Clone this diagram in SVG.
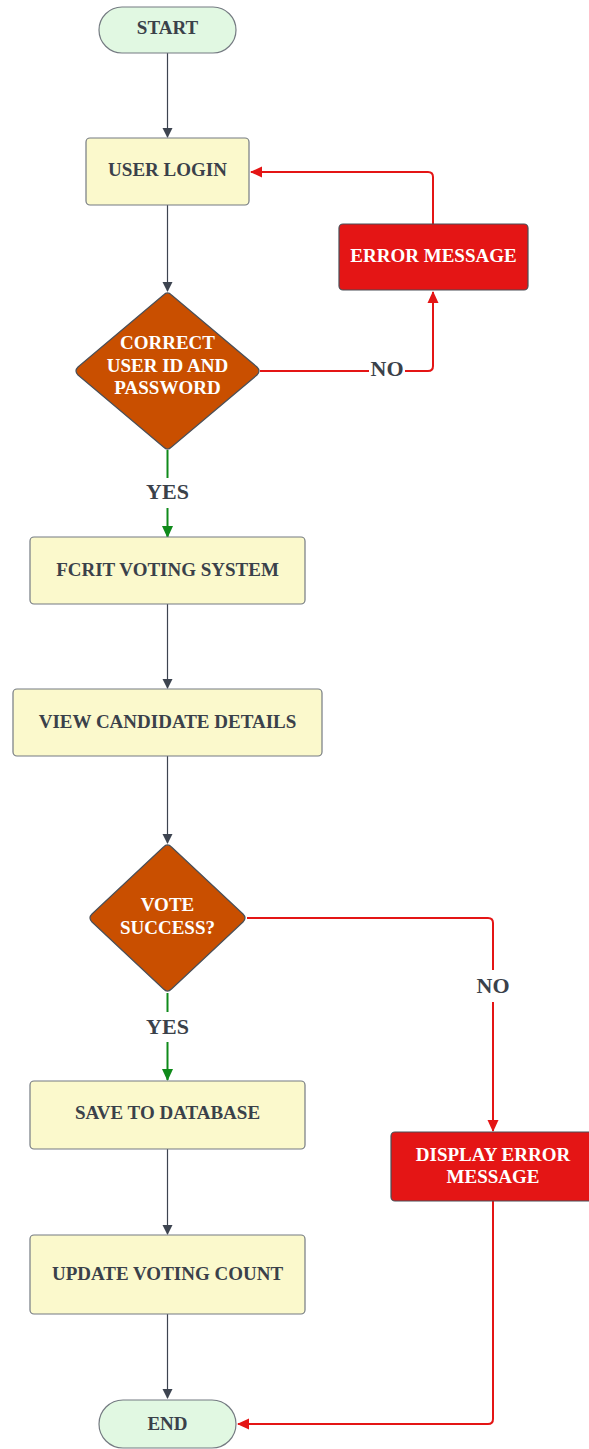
<svg xmlns="http://www.w3.org/2000/svg" width="589" height="1449" viewBox="0 0 589 1449">
<style>
.term{fill:#e1f8e2;stroke:#757b82;stroke-width:1.2}
.proc{fill:#fbf9cc;stroke:#757b82;stroke-width:1.2}
.dec{fill:#c94f00;stroke:#4a4f57;stroke-width:1.2;stroke-linejoin:round}
.err{fill:#e41515;stroke:#4a4f57;stroke-width:1.2}
.t{font-family:"Liberation Serif",serif;font-weight:bold;font-size:19px;text-anchor:middle;fill:#3a414a}
.tw{font-family:"Liberation Serif",serif;font-weight:bold;font-size:19px;text-anchor:middle;fill:#ffffff}
.lbl{font-family:"Liberation Serif",serif;font-weight:bold;font-size:22px;text-anchor:middle;fill:#3a414a}
.g{fill:none;stroke:#3d4450;stroke-width:1.2}
.gr{fill:none;stroke:#0f8a1a;stroke-width:2}
.r{fill:none;stroke:#e41515;stroke-width:2;stroke-linejoin:round}
</style>
<defs>
<marker id="ag" markerWidth="10" markerHeight="12" refX="9" refY="6" orient="auto" markerUnits="userSpaceOnUse"><path d="M0,1 L10,6 L0,11 z" fill="#3d4450"/></marker>
<marker id="agr" markerWidth="12" markerHeight="12" refX="11" refY="6" orient="auto" markerUnits="userSpaceOnUse"><path d="M0,0.5 L12,6 L0,11.5 z" fill="#0f8a1a"/></marker>
<marker id="ar" markerWidth="12" markerHeight="12" refX="11" refY="6" orient="auto" markerUnits="userSpaceOnUse"><path d="M0,0.5 L12,6 L0,11.5 z" fill="#e41515"/></marker>
</defs>
<g id="connectors">
<path class="g" d="M167.5,53 V137" marker-end="url(#ag)"/>
<path class="g" d="M167.5,205 V291" marker-end="url(#ag)"/>
<path class="gr" d="M167.5,450 V478"/>
<path class="gr" d="M167.5,508 V537" marker-end="url(#agr)"/>
<path class="g" d="M167.5,604 V688" marker-end="url(#ag)"/>
<path class="g" d="M167.5,756 V843" marker-end="url(#ag)"/>
<path class="gr" d="M167.5,993 V1012"/>
<path class="gr" d="M167.5,1042 V1080" marker-end="url(#agr)"/>
<path class="g" d="M167.5,1149 V1234" marker-end="url(#ag)"/>
<path class="g" d="M167.5,1314 V1398" marker-end="url(#ag)"/>
<path class="r" d="M260,371 H369 M405,371 H428 Q433,371 433,366 V292" marker-end="url(#ar)"/>
<path class="r" d="M433,224 V177 Q433,172 428,172 H251" marker-end="url(#ar)"/>
<path class="r" d="M247,918 H488 Q493,918 493,923 V970 M493,1002 V1131" marker-end="url(#ar)"/>
<path class="r" d="M493,1201 V1419 Q493,1424 488,1424 H238" marker-end="url(#ar)"/>
<text class="lbl" x="387" y="376">NO</text>
<text class="lbl" x="167.5" y="499">YES</text>
<text class="lbl" x="493" y="993">NO</text>
<text class="lbl" x="167.5" y="1034">YES</text>
</g>
<g id="start"><rect class="term" x="99" y="7" width="137" height="46" rx="23"/><text class="t" x="167.5" y="34">START</text></g>
<g id="login"><rect class="proc" x="86" y="138" width="163" height="67" rx="4"/><text class="t" x="167.5" y="176">USER LOGIN</text></g>
<g id="check1"><path class="dec" d="M163.5,295 Q167.5,291 171.5,295 L257,367 Q261,371 257,375 L171.5,447 Q167.5,451 163.5,447 L78,375 Q74,371 78,367 Z"/><text class="tw" x="167.5" y="349">CORRECT</text><text class="tw" x="167.5" y="372">USER ID AND</text><text class="tw" x="167.5" y="394">PASSWORD</text></g>
<g id="error1"><rect class="err" x="339" y="224" width="189" height="66" rx="4"/><text class="tw" x="433.5" y="262">ERROR MESSAGE</text></g>
<g id="fcrit"><rect class="proc" x="30" y="537" width="275" height="67" rx="4"/><text class="t" x="167.5" y="576">FCRIT VOTING SYSTEM</text></g>
<g id="view"><rect class="proc" x="13" y="689" width="309" height="67" rx="4"/><text class="t" x="167.5" y="728">VIEW CANDIDATE DETAILS</text></g>
<g id="check2"><path class="dec" d="M163.5,847 Q167.5,843 171.5,847 L243,914 Q247,918 243,922 L171.5,989 Q167.5,993 163.5,989 L92,922 Q88,918 92,914 Z"/><text class="tw" x="167.5" y="911">VOTE</text><text class="tw" x="167.5" y="934">SUCCESS?</text></g>
<g id="save"><rect class="proc" x="30" y="1081" width="275" height="68" rx="4"/><text class="t" x="167.5" y="1119">SAVE TO DATABASE</text></g>
<g id="update"><rect class="proc" x="30" y="1235" width="275" height="79" rx="4"/><text class="t" x="167.5" y="1280">UPDATE VOTING COUNT</text></g>
<g id="error2"><rect class="err" x="391" y="1132" width="204" height="69" rx="4"/><text class="tw" x="493" y="1161">DISPLAY ERROR</text><text class="tw" x="493" y="1183">MESSAGE</text></g>
<g id="end"><rect class="term" x="99" y="1400" width="137" height="48" rx="24"/><text class="t" x="167.5" y="1430">END</text></g>
</svg>
